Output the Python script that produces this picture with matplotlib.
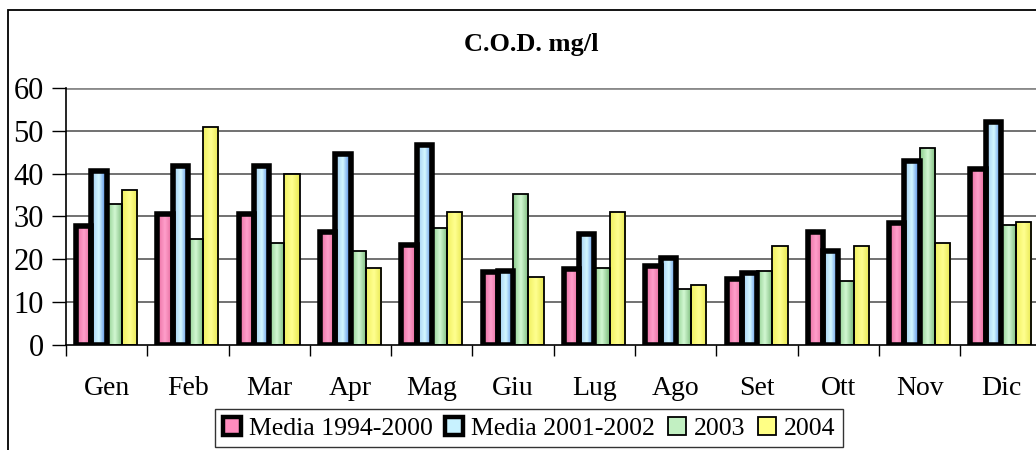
"""
C.O.D. mg/l - monthly comparison bar chart
"""

import numpy as np
import matplotlib
matplotlib.use("Agg")
import matplotlib.pyplot as plt
import matplotlib.patches as mpatches
from matplotlib.colors import LinearSegmentedColormap

plt.rcParams["font.family"] = ["Liberation Serif", "DejaVu Serif"]

# ── data ─────────────────────────────────────────────────────
months = ["Gen", "Feb", "Mar", "Apr", "Mag", "Giu",
          "Lug", "Ago", "Set", "Ott", "Nov", "Dic"]
series_names = ["Media 1994-2000", "Media 2001-2002", "2003", "2004"]
media_94_00 = [27.7, 30.7, 30.7, 26.3, 23.3, 17.0, 17.8, 18.4, 15.5, 26.4, 28.5, 41.2]
media_01_02 = [40.6, 41.8, 41.8, 44.6, 46.8, 17.2, 25.8, 20.3, 16.8, 22.0, 43.0, 52.0]
y2003 = [33.0, 24.8, 23.8, 22.0, 27.2, 35.2, 18.0, 13.1, 17.2, 15.0, 45.9, 28.1]
y2004 = [36.1, 51.0, 40.0, 18.0, 31.1, 15.9, 31.1, 14.1, 23.0, 23.0, 23.8, 28.8]

series = [media_94_00, media_01_02, y2003, y2004]
colors = ["#FF8CBE", "#C8F2FF", "#C2F0C2", "#FFFF85"]
# left edge / centre / right edge of the shaded fill
gradients = [["#E86A9E", "#FF9FCB", "#E06496"],
             ["#9CC8F0", "#D4F8FF", "#3E78E0"],
             ["#8CCB8C", "#D2F8D2", "#78B878"],
             ["#F0F060", "#FFFF90", "#E8E850"]]
edge_widths = [4.0, 4.0, 1.3, 1.3]

# ── figure ───────────────────────────────────────────────────
W, H = 1036, 450
fig = plt.figure(figsize=(W / 100, H / 100), dpi=100)
ax = fig.add_axes([66 / W, (H - 345) / H, 12 * 81.3 / W, (345 - 88) / H])

x = np.arange(len(months))
bw = 0.1875
ramp = np.linspace(0, 1, 64).reshape(1, -1)
for i, vals in enumerate(series):
    pos = x + (i - 1.5) * bw
    bars = ax.bar(pos, vals, width=bw, color=colors[i], linewidth=0, zorder=3)
    cmap = LinearSegmentedColormap.from_list(f"g{i}", gradients[i])
    for b in bars:
        img = ax.imshow(ramp, cmap=cmap, aspect="auto", zorder=3.5,
                        extent=(b.get_x(), b.get_x() + b.get_width(), 0, b.get_height()))
        img.set_clip_path(b)
    # outlines on top of the shading
    ax.bar(pos, vals, width=bw, facecolor="none", edgecolor="black",
           linewidth=edge_widths[i], zorder=4)

ax.set_xlim(-0.5, len(months) - 0.5)
ax.set_ylim(0, 60)
ax.set_yticks(np.arange(0, 61, 10))
ax.tick_params(axis="y", labelsize=22, length=10, width=1, pad=6)
ax.set_xticks(x)
ax.set_xticklabels(months)
ax.set_xticks(np.arange(-0.5, len(months), 1), minor=True)
ax.tick_params(axis="x", which="major", length=0, labelsize=20, pad=22)
ax.tick_params(axis="x", which="minor", length=8, width=1)

for v in range(10, 60, 10):
    ax.axhline(v, color="#4a4a4a", linewidth=1.1, zorder=1)
ax.axhline(60, color="#8a8a8a", linewidth=2, zorder=1)

for s in ["top", "right"]:
    ax.spines[s].set_visible(False)
ax.spines["left"].set_linewidth(1.2)
ax.spines["bottom"].set_linewidth(1.2)
ax.spines["bottom"].set_zorder(5)

fig.text(531 / W, 1 - 44 / H, "C.O.D. mg/l", ha="center", va="center",
         fontsize=19, fontweight="bold")

handles = [mpatches.Patch(facecolor=colors[i], edgecolor="black",
                          linewidth=(3.2 if i < 2 else 1.3), label=series_names[i])
           for i in range(4)]
leg = fig.legend(handles=handles, loc="upper center", ncol=4,
                 bbox_to_anchor=(529 / W, 1 - 409 / H), fontsize=18.5,
                 frameon=True, fancybox=False, edgecolor="black",
                 handlelength=0.7, handleheight=0.7, handletextpad=0.3,
                 columnspacing=0.5, borderpad=0.3, borderaxespad=0)
leg.get_frame().set_linewidth(1)

# outer chart frame (cropped at right and bottom)
fig.patches.append(mpatches.Rectangle((8 / W, -0.5), 2, 1.5 - 10 / H,
                                      fill=False, edgecolor="black",
                                      linewidth=1.3, transform=fig.transFigure))

fig.savefig("out.png", dpi=100)
